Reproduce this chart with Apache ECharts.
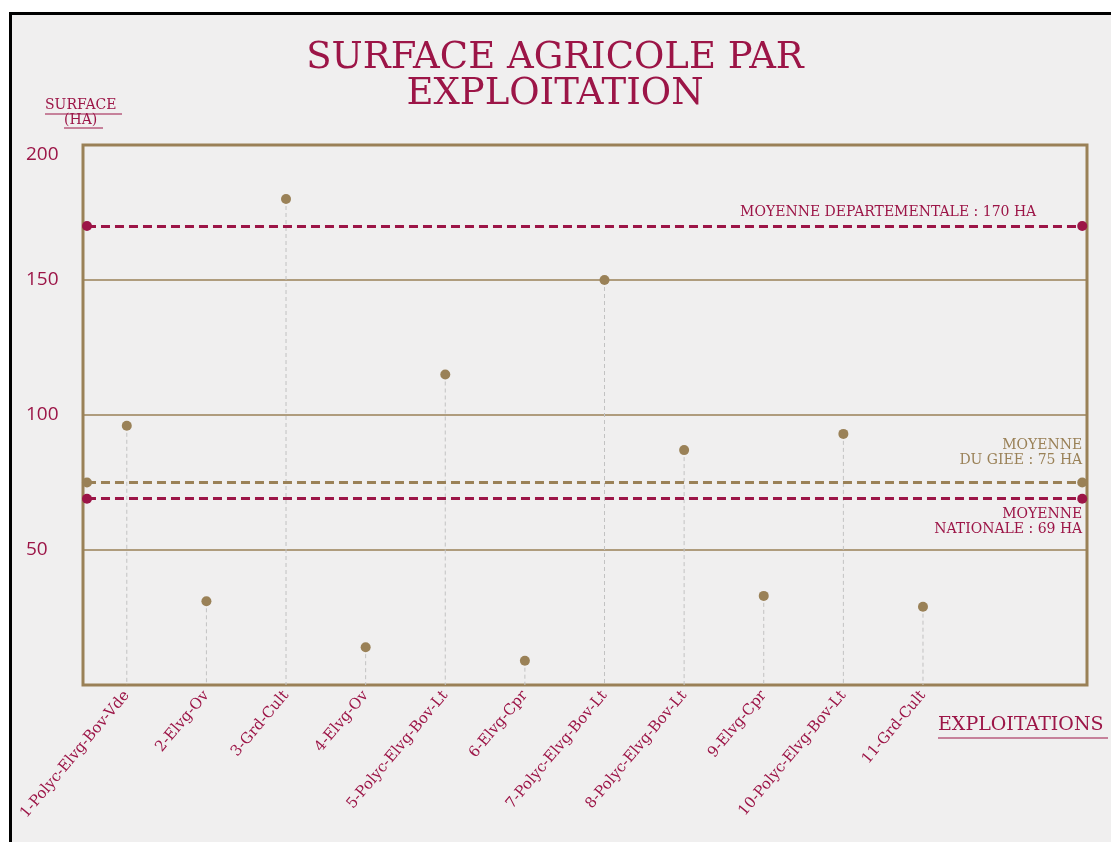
<!DOCTYPE html>
<html>
<head>
<meta charset="utf-8">
<script src="https://cdn.jsdelivr.net/npm/echarts@6/dist/echarts.min.js"></script>
<style>
  html, body { margin: 0; padding: 0; background: #ffffff; }
  #frame { position: absolute; left: 9px; top: 12px; width: 1102px; height: 830px;
           border-left: 3px solid #000; border-top: 3px solid #000; background: #f0efef; }
  #chart { position: absolute; left: 0; top: 0; width: 1111px; height: 842px; }
</style>
</head>
<body>
<div id="frame"></div>
<div id="chart"></div>
<script>
  // exploitations (position sur l'axe = numéro)
  var categories = ['1-Polyc-Elvg-Bov-Vde', '2-Elvg-Ov', '3-Grd-Cult', '4-Elvg-Ov', '5-Polyc-Elvg-Bov-Lt',
    '6-Elvg-Cpr', '7-Polyc-Elvg-Bov-Lt', '8-Polyc-Elvg-Bov-Lt', '9-Elvg-Cpr', '10-Polyc-Elvg-Bov-Lt', '11-Grd-Cult']
  var positions = [1, 2, 3, 4, 5, 6, 7, 8, 9, 10, 11]
  var surfaces = [96, 31, 180, 14, 115, 9, 150, 87, 33, 93, 29]

  // moyennes de référence
  var moyDep = 170
  var moyGiee = 75
  var moyNat = 69

  var crimson = '#9c1547'
  var tan = '#9a8157'
  var serif = 'DejaVu Serif'

  var points = positions.map(function (p, i) { return [p, surfaces[i]] })

  // une ligne de moyenne, pointillée, avec un point à chaque bout
  function refLine(val, color, text, pos, dist) {
    return [{
      coord: [0.5, val],
      itemStyle: { color: color },
      lineStyle: { color: color, width: 3, type: [9, 5] },
      label: {
        show: true, formatter: text, position: pos, distance: dist,
        color: color, fontFamily: serif, fontSize: 14, lineHeight: 15, align: 'right'
      }
    }, {
      coord: [13.0, val],
      itemStyle: { color: color }
    }]
  }

  var myChart = echarts.init(document.getElementById('chart'))
  myChart.setOption({
    animation: false,
    backgroundColor: 'transparent',
    title: {
      text: 'SURFACE AGRICOLE PAR\nEXPLOITATION',
      left: 550, top: 35, textAlign: 'center',
      textStyle: { color: crimson, fontFamily: serif, fontSize: 37, fontWeight: 'normal', lineHeight: 36 }
    },
    grid: {
      left: 83, top: 145, right: 24, bottom: 157,
      show: true, borderColor: tan, borderWidth: 3, backgroundColor: 'transparent'
    },
    xAxis: {
      type: 'value', min: 0.45, max: 13.06,
      splitLine: { show: false },
      axisLine: { show: false },
      axisTick: { show: false },
      axisLabel: {
        customValues: positions,
        formatter: function (v) { return categories[Math.round(v) - 1] || '' },
        rotate: 50, margin: 8,
        color: crimson, fontFamily: serif, fontSize: 15
      }
    },
    yAxis: {
      type: 'value', min: 0, max: 200, interval: 50,
      axisLine: { show: false },
      axisTick: { show: false },
      splitLine: { lineStyle: { color: tan, width: 1.5 } },
      axisLabel: {
        showMinLabel: false,
        formatter: function (v) { return v === 200 ? '{t|' + v + '}' : '' + v },
        align: 'left', margin: 57,
        color: crimson, fontFamily: 'Open Sans', fontSize: 19,
        rich: { t: { padding: [20, 0, 0, 0], color: crimson, fontFamily: 'Open Sans', fontSize: 19 } }
      }
    },
    graphic: [
      { type: 'text', left: 45, top: 98, style: { text: 'SURFACE', fill: crimson, font: '14px "DejaVu Serif"' } },
      { type: 'line', shape: { x1: 45, y1: 114, x2: 122, y2: 114 }, style: { stroke: crimson, lineWidth: 1 } },
      { type: 'text', left: 64, top: 113, style: { text: '(HA)', fill: crimson, font: '14px "DejaVu Serif"' } },
      { type: 'line', shape: { x1: 64, y1: 128, x2: 103, y2: 128 }, style: { stroke: crimson, lineWidth: 1 } },
      { type: 'text', left: 938, top: 716, style: { text: 'EXPLOITATIONS', fill: crimson, font: '19px "DejaVu Serif"' } },
      { type: 'line', shape: { x1: 938, y1: 738, x2: 1108, y2: 738 }, style: { stroke: crimson, lineWidth: 1 } }
    ],
    series: [
      {
        // traits verticaux pointillés jusqu'à l'axe
        type: 'custom',
        data: points,
        renderItem: function (params, api) {
          var p = api.coord([api.value(0), api.value(1)])
          var b = api.coord([api.value(0), 0])
          return {
            type: 'line',
            shape: { x1: p[0], y1: p[1], x2: b[0], y2: b[1] },
            style: { stroke: '#c2c2c2', lineWidth: 1, lineDash: [4, 3] }
          }
        },
        z: 2
      },
      {
        type: 'scatter',
        data: points,
        symbolSize: 10,
        itemStyle: { color: tan, opacity: 1 },
        z: 5,
        markLine: {
          silent: true,
          symbol: ['circle', 'circle'],
          symbolSize: 10,
          data: [
            refLine(moyDep, crimson, 'MOYENNE DEPARTEMENTALE : ' + moyDep + ' HA', 'insideEndTop', [46, 6]),
            refLine(moyGiee, tan, 'MOYENNE\nDU GIEE : ' + moyGiee + ' HA', 'insideEndTop', [0, 15]),
            refLine(moyNat, crimson, 'MOYENNE\nNATIONALE : ' + moyNat + ' HA', 'insideEndBottom', [0, 8])
          ]
        }
      }
    ]
  })
</script>
</body>
</html>
